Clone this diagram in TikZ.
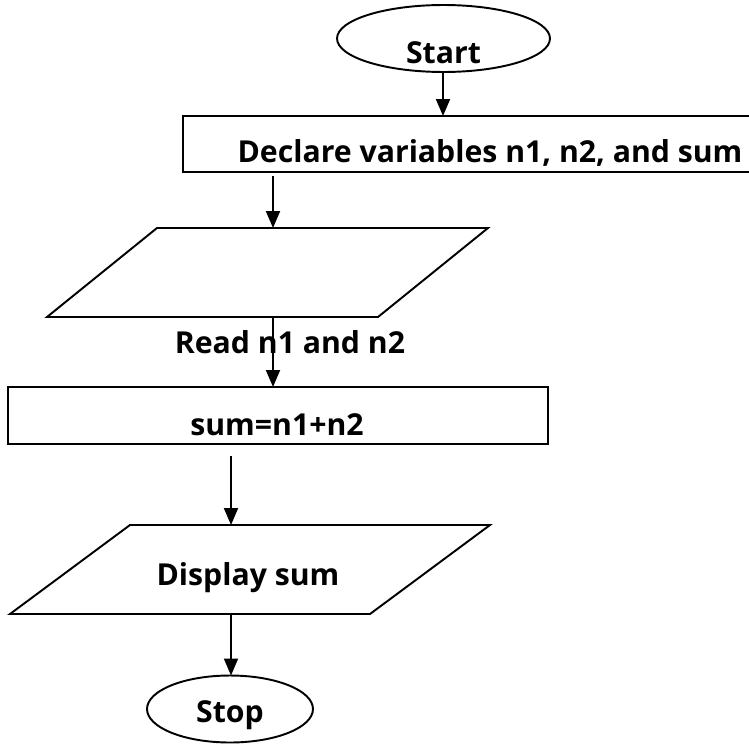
\documentclass[tikz,border=0pt]{standalone}
\usepackage{fontspec}
\setmainfont{Open Sans}
\usetikzlibrary{shapes.geometric,arrows.meta}
\begin{document}
\begin{tikzpicture}[x=0.02cm,y=-0.02cm,
    line width=1.1pt,
    term/.style={draw,ellipse,inner sep=0pt,outer sep=0pt,minimum height=1.34cm},
    box/.style={draw,rectangle,inner sep=0pt,outer sep=0pt},
    txt/.style={anchor=base,inner sep=0pt,font=\fontsize{17.2}{20}\selectfont\bfseries},
    arr/.style={-{Triangle[length=0.34cm,width=0.28cm]}}]
    \useasboundingbox (0,0) rectangle (749,743);
    % shapes
    \node[term,minimum width=4.26cm] (start) at (443.5,38.5) {};
    \node[box,minimum width=11.44cm,minimum height=1.12cm] (decl) at (469,144) {};
    \draw (157,228) -- (488,228) -- (378,317) -- (47,317) -- cycle; %read
    \node[box,minimum width=10.8cm,minimum height=1.14cm] (calc) at (278,415.5) {};
    \draw (130,525) -- (490,525) -- (370,614) -- (10,614) -- cycle; %display
    \node[term,minimum width=3.32cm] (stop) at (230,709) {};
    \coordinate (readtop) at (273,228);
    \coordinate (readbot) at (273,317);
    \coordinate (disptop) at (231,525);
    \coordinate (dispbot) at (231,614);
    % texts
    \node[txt] (starttxt) at (443.5,64) {Start};
    \node[txt] (decltxt) at (490,162) {Declare variables n1, n2, and sum};
    \node[txt] (readtxt) at (290,353) {Read n1 and n2};
    \node[txt] (calctxt) at (277,435) {sum=n1+n2};
    \node[txt] (disptxt) at (248,585) {Display sum};
    \node[txt] (stoptxt) at (230,722) {Stop};
    % arrows
    \coordinate (c1) at (443,0);
    \draw[arr] (start.south -| c1) -- (decl.north -| c1);
    \draw[arr] ([yshift=-0.08cm]decl.south -| readtop) -- (readtop);
    \draw[arr] (readbot) -- (calc.north -| readbot);
    \draw[arr] ([yshift=-0.24cm]calc.south -| disptop) -- (disptop);
    \draw[arr] (dispbot) -- (stop.north -| dispbot);
\end{tikzpicture}
\end{document}
